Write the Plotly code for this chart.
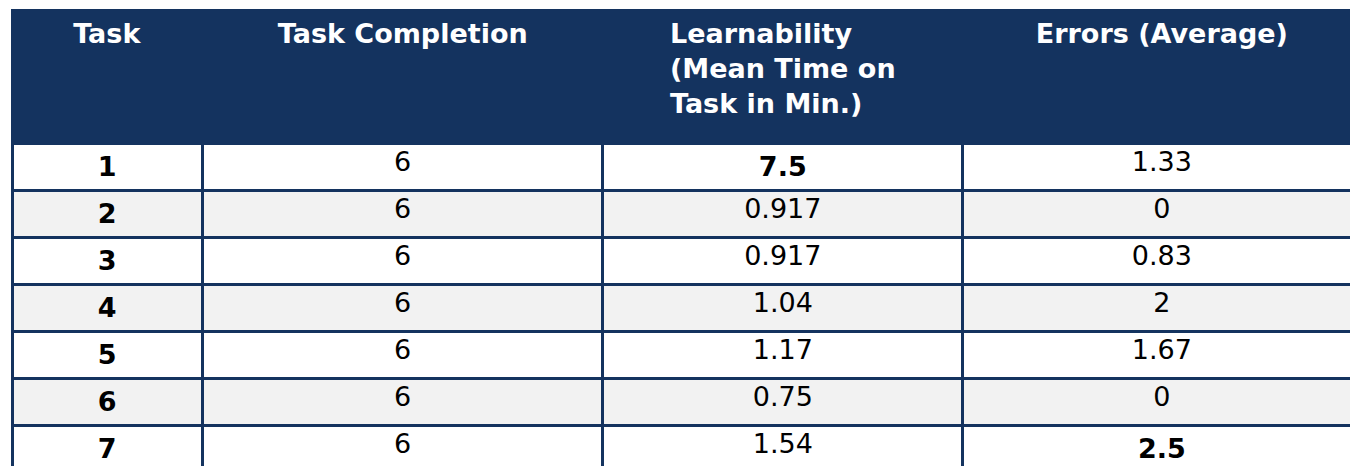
import plotly.graph_objects as go

header = ["Task", "Task Completion", "Learnability<br>(Mean Time on<br>Task in Min.)", "Errors (Average)"]
tasks = ["1", "2", "3", "4", "5", "6", "7"]
completion = ["6", "6", "6", "6", "6", "6", "6"]
learnability = ["7.5", "0.917", "0.917", "1.04", "1.17", "0.75", "1.54"]
errors = ["1.33", "0", "0.83", "2", "1.67", "0", "2.5"]

navy = "#14335f"
# single-line headers get a leading break so they sit in the middle line
head_cells = ["<b>%s</b>" % h if "<br>" in h else "<b><br>%s</b>" % h for h in header]
# bold the task ids and the highest value in each measured column
task_cells = ["<b>%s</b>" % t for t in tasks]
learn_cells = ["<b>%s</b>" % v if v == "7.5" else v for v in learnability]
err_cells = ["<b>%s</b>" % v if v == "2.5" else v for v in errors]
fills = ["white" if i % 2 == 0 else "#f2f2f2" for i in range(len(tasks))]

fig = go.Figure(go.Table(
    columnwidth=[188, 395, 355, 393],
    header=dict(
        values=head_cells,
        fill_color=navy,
        line=dict(color=navy, width=3),
        font=dict(family="DejaVu Sans", size=27, color="white"),
        align="center",
        height=133,
    ),
    cells=dict(
        values=[task_cells, completion, learn_cells, err_cells],
        fill_color=[fills] * 4,
        line=dict(color=navy, width=3),
        font=dict(family="DejaVu Sans", size=27, color="black"),
        align="center",
        height=44.9,
    ),
))

fig.update_layout(
    width=1358, height=466,
    margin=dict(l=4, r=5, t=2, b=0),
    paper_bgcolor="white",
)

fig.write_html("out.html")
